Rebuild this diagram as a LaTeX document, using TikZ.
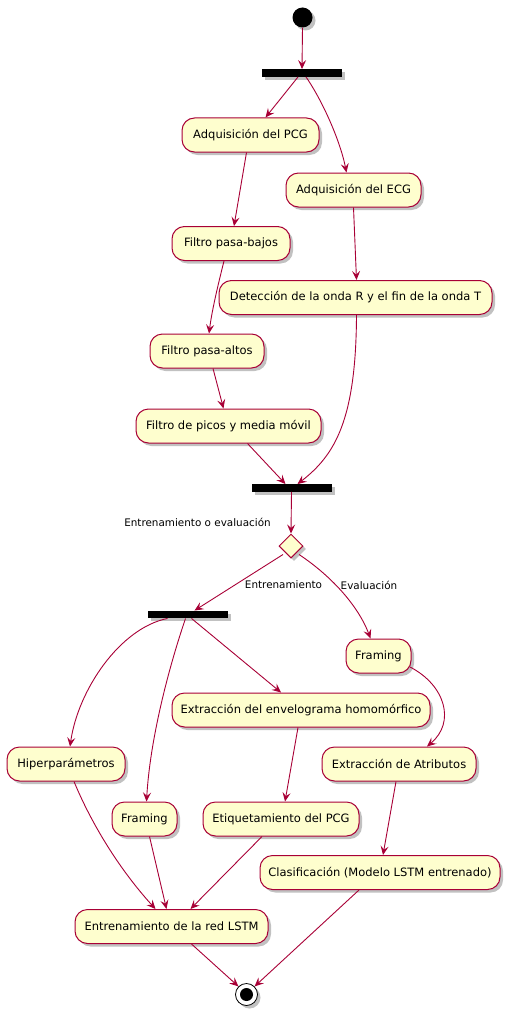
\documentclass[tikz,border=0pt]{standalone}
\usepackage{fontspec}
\setmainfont{DejaVu Sans}
\usetikzlibrary{shadows,arrows.meta,shapes.geometric}
\definecolor{umlred}{HTML}{A80036}
\definecolor{umlfill}{HTML}{FEFECE}
\tikzset{
  act/.style={draw=umlred, fill=umlfill, line width=1pt, rounded corners=12.5pt,
    minimum height=34pt, inner sep=0pt, font=\fontsize{11.5}{13}\selectfont,
    drop shadow={shadow xshift=3pt, shadow yshift=-3pt, opacity=0.35, fill=black!70}},
  bar/.style={fill=black, draw=none, minimum width=80pt, minimum height=7.5pt, inner sep=0pt,
    drop shadow={shadow xshift=3pt, shadow yshift=-3pt, opacity=0.35, fill=black!70}},
  flow/.style={draw=umlred, line width=0.9pt, -{Stealth[length=9pt,width=8pt,inset=3.5pt]}},
  lbl/.style={font=\fontsize{10.4}{12}\selectfont, inner sep=0pt},
}
\begin{document}
\begin{tikzpicture}[x=1pt,y=-1pt]
\useasboundingbox (0,0) rectangle (510,1014);
% start and end
\node[circle, fill=black, minimum size=20pt, inner sep=0pt,
  drop shadow={shadow xshift=3pt, shadow yshift=-3pt, opacity=0.35, fill=black!70}] (start) at (302.5,17.5) {};
\node[bar] (bar1) at (302,73) {};
\node[act, minimum width=137pt] (pcg) at (250.5,135) {Adquisición del PCG};
\node[act, minimum width=135pt] (ecg) at (353.5,190) {Adquisición del ECG};
\node[act, minimum width=118pt] (lp) at (231,243.5) {Filtro pasa-bajos};
\node[act, minimum width=273pt] (det) at (355.5,297.5) {Detección de la onda R y el fin de la onda T};
\node[act, minimum width=114pt] (hp) at (207,351) {Filtro pasa-altos};
\node[act, minimum width=185pt] (pk) at (228.5,426) {Filtro de picos y media móvil};
\node[bar] (bar2) at (291.5,488) {};
\node[diamond, draw=umlred, fill=umlfill, line width=1pt, minimum width=24pt, minimum height=24pt, inner sep=0pt,
  drop shadow={shadow xshift=3pt, shadow yshift=-3pt, opacity=0.35, fill=black!70}] (dec) at (291,546) {};
\node[lbl] (qlbl) at (197.5,522) {Entrenamiento o evaluación};
\node[bar] (bar3) at (187.5,614.5) {};
\node[act, minimum width=65pt] (fr2) at (378.5,656) {Framing};
\node[act, minimum width=258pt] (env) at (301,710) {Extracción del envelograma homomórfico};
\node[act, minimum width=118pt] (hip) at (66,764) {Hiperparámetros};
\node[act, minimum width=154pt] (atr) at (399,764) {Extracción de Atributos};
\node[act, minimum width=65pt] (fr1) at (144.5,819) {Framing};
\node[act, minimum width=156pt] (eti) at (281,819) {Etiquetamiento del PCG};
\node[act, minimum width=240pt] (cla) at (380,872.5) {Clasificación (Modelo LSTM entrenado)};
\node[act, minimum width=193pt] (lstm) at (171.5,926.5) {Entrenamiento de la red LSTM};
\node[circle, draw=black, fill=white, line width=0.8pt, minimum size=22pt, inner sep=0pt,
  drop shadow={shadow xshift=3pt, shadow yshift=-3pt, opacity=0.35, fill=black!70}] (stop) at (246.5,994.5) {};
\node[circle, fill=black, minimum size=13pt, inner sep=0pt] (stopin) at (stop) {};
% flows
\draw[flow] (start.south) -- (bar1.north);
\draw[flow] ([xshift=-4pt]bar1.south) -- ([xshift=15pt]pcg.north);
\draw[flow] ([xshift=4pt]bar1.south) .. controls (322,100) and (340,140) .. ([xshift=-7pt]ecg.north);
\draw[flow] ([xshift=-4pt]pcg.south) -- ([xshift=3pt]lp.north);
\draw[flow] (ecg.south) -- ([xshift=1pt]det.north);
\draw[flow] ([xshift=-7pt]lp.south) .. controls (218,285) and (212,310) .. ([xshift=2pt]hp.north);
\draw[flow] ([xshift=6pt]hp.south) -- ([xshift=-5pt]pk.north);
\draw[flow] ([xshift=19pt]pk.south) -- ([xshift=-6pt]bar2.north);
\draw[flow] ([xshift=1pt]det.south) .. controls (356,420) and (335,455) .. ([xshift=6pt]bar2.north);
\draw[flow] (bar2.south) -- (dec.north);
\draw[flow] ([xshift=-8pt]dec.south) ++(0,-4) -- ([xshift=7pt]bar3.north);
\node[lbl] (elbl) at (283.5,585) {Entrenamiento};
\node[lbl] (vlbl) at (369,585) {Evaluación};
\draw[flow] ([xshift=8pt]dec.south) ++(0,-4) .. controls (330,575) and (358,605) .. ([xshift=-8pt]fr2.north);
\draw[flow] ([xshift=-20pt]bar3.south) .. controls (120,628) and (78,690) .. ([xshift=4pt]hip.north);
\draw[flow] ([xshift=-2pt]bar3.south) .. controls (168,670) and (150,740) .. ([xshift=2pt]fr1.north);
\draw[flow] ([xshift=4pt]bar3.south) -- ([xshift=-20pt]env.north);
\draw[flow] ([xshift=-1.5pt,yshift=-11pt]fr2.east) .. controls (445,685) and (456,722) .. ([xshift=28pt]atr.north);
\draw[flow] ([xshift=-3pt]env.south) -- ([xshift=4pt]eti.north);
\draw[flow] ([xshift=-3pt]atr.south) -- ([xshift=3pt]cla.north);
\draw[flow] ([xshift=8pt]hip.south) .. controls (92,825) and (120,870) .. ([xshift=-16pt]lstm.north);
\draw[flow] ([xshift=5pt]fr1.south) -- ([xshift=-5pt]lstm.north);
\draw[flow] ([xshift=-19pt]eti.south) -- ([xshift=19pt]lstm.north);
\draw[flow] ([xshift=20pt]lstm.south) -- (stop.north west);
\draw[flow] ([xshift=-21pt]cla.south) -- (stop.north east);
\end{tikzpicture}
\end{document}
